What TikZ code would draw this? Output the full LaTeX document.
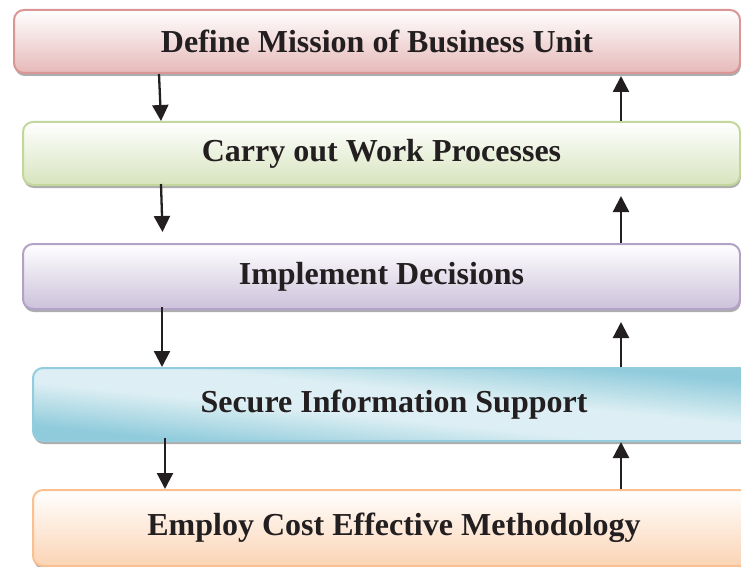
\documentclass[tikz,border=0pt]{standalone}
\usepackage{fontspec}
\setmainfont{Liberation Serif}
\usetikzlibrary{shadows,arrows.meta,calc}

\definecolor{inkc}{HTML}{231F20}
\definecolor{redB}{HTML}{D99694}
\definecolor{redF}{HTML}{E6B9B8}
\definecolor{grnB}{HTML}{C3D69B}
\definecolor{grnF}{HTML}{D7E4BD}
\definecolor{purB}{HTML}{B3A2C7}
\definecolor{purF}{HTML}{CCC1DA}
\definecolor{bluB}{HTML}{93CDDD}
\definecolor{bluD}{HTML}{8FCBDB}
\definecolor{bluL}{HTML}{DDEFF4}
\definecolor{orgB}{HTML}{FAC090}
\definecolor{orgF}{HTML}{FBD4B4}

\tikzset{
  stagebox/.style={
    rectangle, rounded corners=10pt, line width=2pt, anchor=center,
    inner sep=0pt, text=inkc,
    font=\fontsize{32}{38}\selectfont\bfseries,
    drop shadow={shadow xshift=0.8pt, shadow yshift=-3pt, fill=black!40, opacity=0.8}
  },
  flow/.style={line width=2.3pt, draw=inkc,
    -{Triangle[length=16pt,width=16pt]}},
  % light band running from the top-left corner to the bottom-right corner,
  % built from overlapping strips parallel to that diagonal (box is #1 x #2)
  diagband/.style 2 args={
    path picture={
      \coordinate (nw) at (path picture bounding box.north west);
      \foreach \i in {0,...,79}{
        \pgfmathsetmacro\ta{-1+\i*0.025}
        \pgfmathsetmacro\tb{\ta+0.05}
        \pgfmathsetmacro\tm{abs(\ta+0.0125)}
        \pgfmathsetmacro\mix{\tm<0.2 ? 100 : (\tm>0.8 ? 0 : 100*(0.8-\tm)/0.6)}
        \fill[bluL!\mix!bluD]
          ($(nw)+(-0.1*#1,{(-0.1+\ta)*#2})$) -- ($(nw)+(1.1*#1,{(1.1+\ta)*#2})$) --
          ($(nw)+(1.1*#1,{(1.1+\tb)*#2})$) -- ($(nw)+(-0.1*#1,{(-0.1+\tb)*#2})$) -- cycle;
      }
    }
  }
}

\begin{document}
\begin{tikzpicture}[x=1pt,y=-1pt]
\useasboundingbox (0,0) rectangle (741,567);

% the five stages, top to bottom
\node[stagebox, draw=redB, top color=white, bottom color=redF,
      minimum width=726pt, minimum height=63pt] (b1) at (377,41.5)
      {Define Mission of Business Unit};
\node[stagebox, draw=grnB, top color=white, bottom color=grnF,
      minimum width=717pt, minimum height=63pt] (b2) at (381.5,153.5)
      {Carry out Work Processes};
\node[stagebox, draw=purB, top color=white, bottom color=purF,
      minimum width=717pt, minimum height=65pt] (b3) at (381.5,276.5)
      {Implement Decisions};
\node[stagebox, draw=bluB, fill=bluD, diagband={722}{73},
      minimum width=722pt, minimum height=73pt] (b4) at (394,404.5)
      {Secure Information Support};
\node[stagebox, draw=orgB, top color=white, bottom color=orgF,
      minimum width=722pt, minimum height=76pt] (b5) at (394,528)
      {Employ Cost Effective Methodology};

% downward chain on the left
\draw[flow] ([xshift=146pt]b1.south west) -- ([xshift=139pt]b2.north west);
\draw[flow] ([xshift=139pt,yshift=2pt]b2.south west) -- ([xshift=140.5pt,yshift=11pt]b3.north west);
\draw[flow] ([xshift=140pt,yshift=3pt]b3.south west) -- ([xshift=130pt]b4.north west);
\draw[flow] ([xshift=133pt,yshift=4pt]b4.south west) -- ([xshift=133pt]b5.north west);

% upward chain on the right
\draw[flow] ([xshift=599pt]b2.north west) -- ([xshift=608pt,yshift=-2pt]b1.south west);
\draw[flow] ([xshift=599pt]b3.north west) -- ([xshift=599pt,yshift=-10pt]b2.south west);
\draw[flow] ([xshift=589pt]b4.north west) -- ([xshift=599pt,yshift=-12pt]b3.south west);
\draw[flow] ([xshift=589pt]b5.north west) -- ([xshift=589pt]b4.south west);
\end{tikzpicture}
\end{document}
